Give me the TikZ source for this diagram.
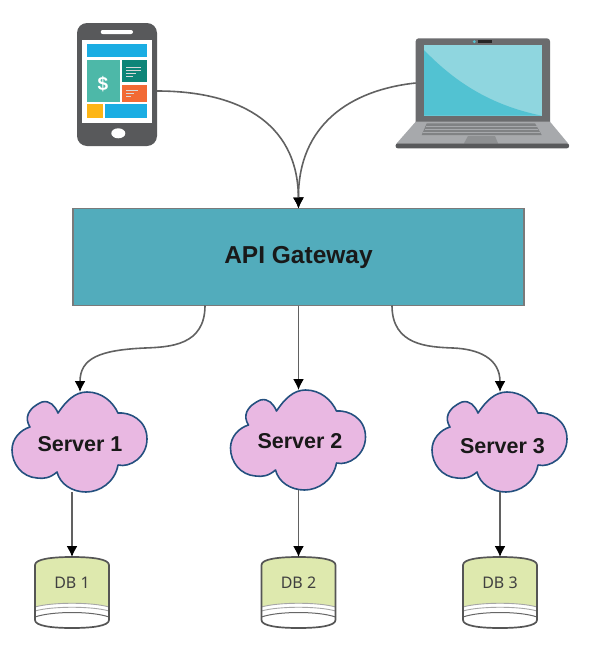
\documentclass[tikz,border=0pt]{standalone}
\usepackage{fontspec}
\setmainfont{Liberation Sans}
\newfontfamily\dbfont{Noto Sans}
\usetikzlibrary{arrows.meta}
\definecolor{gwfill}{HTML}{52ACBC}
\definecolor{gwline}{HTML}{7A7A7A}
\definecolor{cloudfill}{HTML}{E9B8E2}
\definecolor{cloudline}{HTML}{24507F}
\definecolor{dbfill}{HTML}{DEE9AE}
\definecolor{dbline}{HTML}{555555}
\definecolor{devdark}{HTML}{58595B}
\definecolor{lidgray}{HTML}{6B6C6E}
\definecolor{sky}{HTML}{1AADE3}
\definecolor{payg}{HTML}{4DB8A8}
\definecolor{tealdk}{HTML}{0E8578}
\definecolor{orng}{HTML}{F26A35}
\definecolor{yell}{HTML}{FDB515}
\definecolor{scrlight}{HTML}{8FD6DF}
\definecolor{scrdark}{HTML}{52C2D2}
\definecolor{basegray}{HTML}{A7A9AC}
\definecolor{keygray}{HTML}{808284}
\definecolor{padgray}{HTML}{8E9092}
\tikzset{
  box/.style={draw=none,inner sep=0pt,outer sep=0pt,align=center,anchor=center},
  conn/.style={draw=black!62,line width=1.6pt,-{Latex[length=11pt,width=11pt,black]}},
  servertext/.style={font=\bfseries\fontsize{21.5}{24}\selectfont,text=black!90},
  dbtext/.style={font=\dbfont\fontsize{16}{18}\selectfont,text=black!75},
  cloudbox/.style={box,minimum width=135pt,minimum height=100pt},
  dbbox/.style={box,minimum width=74pt,minimum height=71pt},
  cloudshape/.pic={
    \path[fill=cloudfill,draw=cloudline,line width=1.6pt,line join=round]
      (-22,-29) .. controls (-14,-41) and (-5,-50) .. (7,-50)
      .. controls (22,-50) and (33,-40) .. (38,-29)
      .. controls (50,-30) and (67,-22) .. (67,-3)
      .. controls (67,15) and (50,26) .. (38,23)
      .. controls (35,40) and (20,50) .. (6,50)
      .. controls (-8,50) and (-20,42) .. (-23,30)
      .. controls (-30,36) and (-36,37) .. (-43,36)
      .. controls (-58,35) and (-68,22) .. (-68,8)
      .. controls (-68,-3) and (-60,-12) .. (-50,-15)
      .. controls (-56,-24) and (-52,-34) .. (-38,-40)
      .. controls (-30,-42) and (-25,-36) .. (-22,-29) -- cycle;
  },
  dbshape/.pic={
    \fill[white] (-37,8) .. controls (-37,2) and (-20,0) .. (0,0)
      .. controls (20,0) and (37,2) .. (37,8) -- (37,63)
      .. controls (37,69) and (20,71) .. (0,71)
      .. controls (-20,71) and (-37,69) .. (-37,63) -- cycle;
    \fill[dbfill] (-37,8) .. controls (-37,2) and (-20,0) .. (0,0)
      .. controls (20,0) and (37,2) .. (37,8) -- (37,50)
      .. controls (20,45) and (-20,45) .. (-37,50) -- cycle;
    \draw[black!35,line width=.9pt] (-37,50) .. controls (-20,45) and (20,45) .. (37,50);
    \draw[black!35,line width=.9pt] (-37,54) .. controls (-20,49) and (20,49) .. (37,54);
    \draw[black!60,line width=1pt] (-37,60) .. controls (-20,54) and (20,54) .. (37,60);
    \draw[dbline,line width=1.7pt] (-37,8) .. controls (-37,2) and (-20,0) .. (0,0)
      .. controls (20,0) and (37,2) .. (37,8) -- (37,63)
      .. controls (37,69) and (20,71) .. (0,71)
      .. controls (-20,71) and (-37,69) .. (-37,63) -- cycle;
  }
}
\begin{document}
\begin{tikzpicture}[x=1pt,y=-1pt]
\useasboundingbox (0,0) rectangle (593,651);
% phone
\fill[devdark,rounded corners=10pt] (77,23) rectangle (157,146);
\fill[white,rounded corners=2pt] (100.7,30) rectangle (133,34);
\fill[white] (81.7,40) rectangle (151.7,123.3);
\fill[sky] (87.3,44) rectangle (146.7,57.3);
\fill[payg] (87.3,60) rectangle (120,102);
\fill[tealdk] (122,60) rectangle (146.7,82.3);
\fill[orng] (122,85) rectangle (146.7,102);
\fill[yell] (87.3,104.3) rectangle (102.7,118.3);
\fill[sky] (105.3,104.3) rectangle (146.7,118.3);
\fill[white] (118.3,133.3) ellipse [x radius=7,y radius=5];
\draw[white!85!black,line width=.8pt] (126,67) -- (141,67) (126,70) -- (141,70) (126,73) -- (136,73) (126,76) -- (133,76);
\draw[white!85!black,line width=.7pt] (126,90) -- (138,90) (126,93) -- (134,93) (126,96) -- (131,96);
\node[box,text=white,font=\bfseries\fontsize{19}{20}\selectfont] (dollar) at (103,84) {\$};
% laptop
\fill[lidgray,rounded corners=3pt] (415.7,38.3) -- (550,38.3) -- (550,125) -- (415.7,125) -- cycle;
\fill[scrlight] (424,45) rectangle (541.7,115.7);
\fill[scrdark] (424,50) .. controls (455,82) and (490,105) .. (541.7,115.7) -- (424,115.7) -- cycle;
\fill[black!85] (478,40.3) rectangle (492,43);
\fill[scrdark] (474.3,41.7) circle (1.6);
\fill[basegray] (415.7,121.7) -- (550,121.7) -- (568,143.3) -- (396.7,143.3) -- cycle;
\fill[keygray] (426.7,123.3) -- (535,123.3) -- (541.7,135) -- (421.7,135) -- cycle;
\draw[basegray,line width=.5pt] (425.5,126.2) -- (537,126.2) (424.5,129.2) -- (538,129.2) (423,132.2) -- (540,132.2);
\fill[padgray] (468,136) -- (495,136) -- (498,143.3) -- (464,143.3) -- cycle;
\fill[devdark,rounded corners=2pt] (395.7,143.3) rectangle (569,148.3);
% named device anchors
\node[box,minimum width=80pt,minimum height=123pt] (phone) at (117,84.5) {};
\node[box,minimum width=134.3pt,minimum height=83.4pt] (lid) at (482.85,80) {};
% gateway
\node[box,draw=gwline,fill=gwfill,line width=1.4pt,minimum width=451pt,minimum height=97pt,
      font=\bfseries\fontsize{24.5}{28}\selectfont,text=black!90] (gw) at (298.5,257) {API Gateway};
% clouds
\pic at (80,442) {cloudshape};
\pic at (298.5,440) {cloudshape};
\pic at (500,442) {cloudshape};
\node[cloudbox] (s1) at (80,442) {};
\node[cloudbox] (s2) at (298.5,440) {};
\node[cloudbox] (s3) at (500,442) {};
\node[box,servertext] (s1t) at (80,444) {Server 1};
\node[box,servertext] (s2t) at (300,441) {Server 2};
\node[box,servertext] (s3t) at (502.5,446) {Server 3};
% databases
\pic at (72,557) {dbshape};
\pic at (298.5,557) {dbshape};
\pic at (500,557) {dbshape};
\node[dbbox] (d1) at (72,592.5) {};
\node[dbbox] (d2) at (298.5,592.5) {};
\node[dbbox] (d3) at (500,592.5) {};
\node[box,dbtext] (d1t) at (72,583) {DB 1};
\node[box,dbtext] (d2t) at (298.5,583) {DB 2};
\node[box,dbtext] (d3t) at (500,583) {DB 3};
% connectors
\draw[conn] ([yshift=-6.5pt]phone.east) .. controls (235,91) and (298,120) .. (gw.north);
\draw[conn] ([yshift=-3pt]lid.west) .. controls (350,90) and (298,125) .. (gw.north);
\draw[conn] ([xshift=-93.5pt]gw.south) .. controls +(0,40) and (170,347) .. (145,348)
   .. controls (100,350) and (80,358) .. (s1.north);
\draw[conn] (gw.south) -- (gw.south |- s2.north);
\draw[conn] ([xshift=93.5pt]gw.south) .. controls +(0,40) and (428,347) .. (453,348)
   .. controls (478,349) and (500,358) .. (s3.north);
\draw[conn] (d1.north |- s1.south) -- (d1.north);
\draw[conn] (d2.north |- s2.south) -- (d2.north);
\draw[conn] (d3.north |- s3.south) -- (d3.north);
\end{tikzpicture}
\end{document}
